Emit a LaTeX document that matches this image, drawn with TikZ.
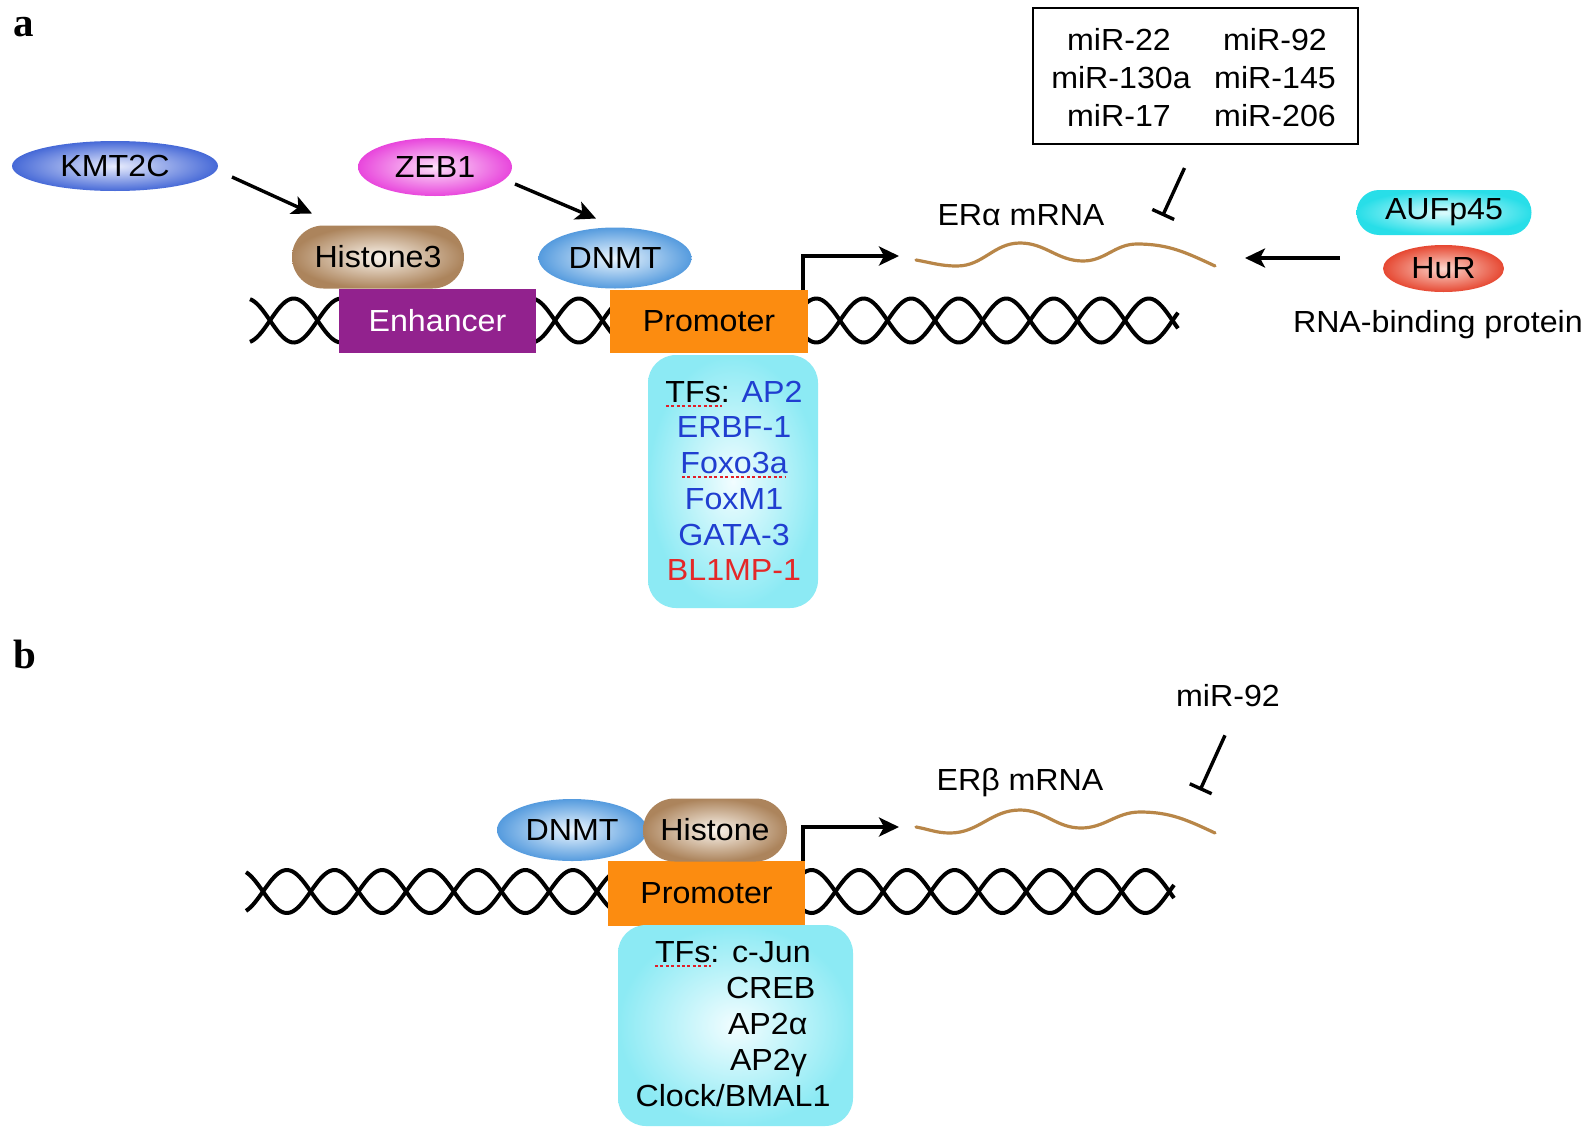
\documentclass[tikz,border=0pt]{standalone}
\usepackage{fontspec}
\setmainfont{Liberation Sans}[FakeStretch=1.055]
\newfontfamily\labfont{Liberation Serif}
\usetikzlibrary{arrows.meta,shapes.misc,shapes.geometric}
\definecolor{kmtin}{RGB}{232,236,253}
\definecolor{kmtout}{RGB}{70,105,215}
\definecolor{zebin}{RGB}{253,225,249}
\definecolor{zebout}{RGB}{232,70,220}
\definecolor{hisin}{RGB}{250,244,236}
\definecolor{hisout}{RGB}{172,132,92}
\definecolor{dnmin}{RGB}{236,246,254}
\definecolor{dnmout}{RGB}{85,155,222}
\definecolor{aufin}{RGB}{220,252,253}
\definecolor{aufout}{RGB}{40,222,232}
\definecolor{hurin}{RGB}{252,215,205}
\definecolor{hurout}{RGB}{230,72,50}
\definecolor{tfin}{RGB}{242,253,255}
\definecolor{tfout}{RGB}{140,234,244}
\definecolor{enhcol}{RGB}{146,34,142}
\definecolor{procol}{RGB}{252,140,16}
\definecolor{mrnacol}{RGB}{184,134,72}
\definecolor{tfblue}{RGB}{32,62,208}
\definecolor{tfred}{RGB}{228,40,40}
\definecolor{spellred}{RGB}{225,30,40}
\begin{document}
\begin{tikzpicture}[x=1pt,y=-1pt,
  every node/.style={inner sep=0pt, outer sep=0pt, font=\fontsize{30.5}{36}\selectfont},
  lab/.style={anchor=base west, font=\labfont\bfseries\fontsize{41}{41}\selectfont},
  prot/.style={ellipse, shade, shading=radial},
  pill/.style={rounded rectangle, shade, shading=radial},
  arr/.style={line width=3.4pt, -{Stealth[length=20pt,width=19pt,inset=5pt]}},
  inh/.style={line width=3.4pt, -{Bar[width=24pt]}},
  strand/.style={line width=4pt, black},
  mrna/.style={line width=3.2pt, mrnacol, line cap=round},
  tfbox/.style={rectangle, rounded corners=28pt, shade, shading=radial, inner color=tfin, outer color=tfout},
  txt/.style={anchor=base},
  spell/.style={line width=2.6pt, spellred, dash pattern=on 3pt off 2.4pt},
  mirbox/.style={draw, line width=2.5pt, rectangle}
]
\useasboundingbox (0,0) rectangle (1589,1135);
\fill[white] (0,0) rectangle (1589,1135);

% ---------------- part a ----------------
\node[lab] (la) at (13,36) {a};

% DNA helix a
\draw[strand] plot[domain=250:1178, samples=400, smooth] (\x, {320.5 + 22*sin((\x-270)*3.78947)});
\draw[strand] plot[domain=250:1178, samples=400, smooth] (\x, {320.5 - 22*sin((\x-270)*3.78947)});

\node[rectangle, fill=enhcol, minimum width=197pt, minimum height=64pt, text=white] (enh) at (437.5,321) {Enhancer};
\node[rectangle, fill=procol, minimum width=198pt, minimum height=63pt] (pa) at (709,321.5) {Promoter};

\node[prot, minimum width=206pt, minimum height=50pt, inner color=kmtin, outer color=kmtout] (kmt) at (115,166) {KMT2C};
\node[prot, minimum width=154pt, minimum height=58pt, inner color=zebin, outer color=zebout] (zeb) at (435,167) {ZEB1};
\node[pill, minimum width=172pt, minimum height=63pt, inner color=hisin, outer color=hisout] (h3) at (378,257) {Histone3};
\node[prot, minimum width=153pt, minimum height=61pt, inner color=dnmin, outer color=dnmout] (dna) at (615,258) {DNMT};

\draw[arr] ([shift={(14,11)}]kmt.east) -- ([shift={(-66,-12)}]h3.north);
\draw[arr] ([shift={(3,17)}]zeb.east) -- ([shift={(-19,-9)}]dna.north);

% TF box a
\node[tfbox, minimum width=170pt, minimum height=253pt] (tfa) at (733,481.5) {};
\node[txt] (tfa1) at (734,402) {TFs: \textcolor{tfblue}{AP2}};
\node[txt, text=tfblue] (tfa2) at (734,437) {ERBF-1};
\node[txt, text=tfblue] (tfa3) at (734,473) {Foxo3a};
\node[txt, text=tfblue] (tfa4) at (734,509) {FoxM1};
\node[txt, text=tfblue] (tfa5) at (734,545) {GATA-3};
\node[txt, text=tfred] (tfa6) at (734,580) {BL1MP-1};
\draw[spell] (666,406) -- (722,406);
\draw[spell] (682,477) -- (786,477);

% transcription arrow a
\coordinate (tA) at (899,256);
\draw[arr] ([xshift=-5pt]pa.north east) |- (tA);

% mRNA a
\coordinate (mA0) at (916,260);
\coordinate (mA1) at (1215,266);
\draw[mrna] (mA0) to[out=-10,in=180] (957,266) to[out=0,in=180] (1020,243) to[out=0,in=180] (1083,261) to[out=0,in=180] (1137,244) to[out=0,in=155] (mA1);
\node[txt] (era) at (1021,225) {ERα mRNA};

% miR box
\node[mirbox, minimum width=325pt, minimum height=136pt] (mir) at (1195.5,76) {};
\node[txt] (m1) at (1119,50) {miR-22};
\node[txt] (m2) at (1121,88) {miR-130a};
\node[txt] (m3) at (1119,126) {miR-17};
\node[txt] (m4) at (1275,50) {miR-92};
\node[txt] (m5) at (1275,88) {miR-145};
\node[txt] (m6) at (1275,126) {miR-206};
\draw[inh] ([shift={(-11,24)}]mir.south) -- ([shift={(-33,72)}]mir.south);

% RNA-binding proteins
\node[pill, minimum width=175pt, minimum height=45pt, inner color=aufin, outer color=aufout] (auf) at (1444,212.5) {AUFp45};
\node[prot, minimum width=121pt, minimum height=47pt, inner color=hurin, outer color=hurout] (hur) at (1443.5,268.5) {HuR};
\node[anchor=base west] (rbp) at (1293,332) {RNA-binding protein};
\draw[arr] ([shift={(-43,-10.5)}]hur.west) -- ([shift={(30,-8)}]mA1);

% ---------------- part b ----------------
\node[lab] (lb) at (13,668) {b};

\draw[strand] plot[domain=246:1174, samples=400, smooth] (\x, {891.5 + 21.5*sin((\x-263)*3.77358)});
\draw[strand] plot[domain=246:1174, samples=400, smooth] (\x, {891.5 - 21.5*sin((\x-263)*3.77358)});

\node[rectangle, fill=procol, minimum width=197pt, minimum height=65pt] (pb) at (706.5,893.5) {Promoter};
\node[prot, minimum width=150pt, minimum height=62pt, inner color=dnmin, outer color=dnmout] (dnb) at (572,830) {DNMT};
\node[pill, minimum width=144pt, minimum height=63pt, inner color=hisin, outer color=hisout] (hb) at (715,830) {Histone};

% TF box b
\node[tfbox, minimum width=235pt, minimum height=201pt] (tfb) at (735.5,1025.5) {};
\node[anchor=base west] (tfb0) at (655,962) {TFs:};
\node[anchor=base west] (tfb1) at (732,962) {c-Jun};
\node[anchor=base west] (tfb2) at (726,998) {CREB};
\node[anchor=base west] (tfb3) at (728,1034) {AP2α};
\node[anchor=base west] (tfb4) at (730,1070) {AP2γ};
\node[txt] (tfb5) at (733,1106) {Clock/BMAL1};
\draw[spell] (655,966) -- (711,966);

% transcription arrow b
\coordinate (tB) at (899,827);
\draw[arr] ([xshift=-2pt]pb.north east) |- (tB);

% mRNA b
\coordinate (mB0) at (916,827);
\coordinate (mB1) at (1215,833);
\draw[mrna] (mB0) to[out=-10,in=180] (950,833) to[out=0,in=180] (1020,810) to[out=0,in=180] (1081,828) to[out=0,in=180] (1140,812) to[out=0,in=155] (mB1);
\node[txt] (erb) at (1020,790) {ERβ mRNA};

\node[txt] (mir92) at (1228,706) {miR-92};
\draw[inh] ([shift={(-3,29)}]mir92.south) -- ([shift={(-28,84)}]mir92.south);
\end{tikzpicture}
\end{document}
